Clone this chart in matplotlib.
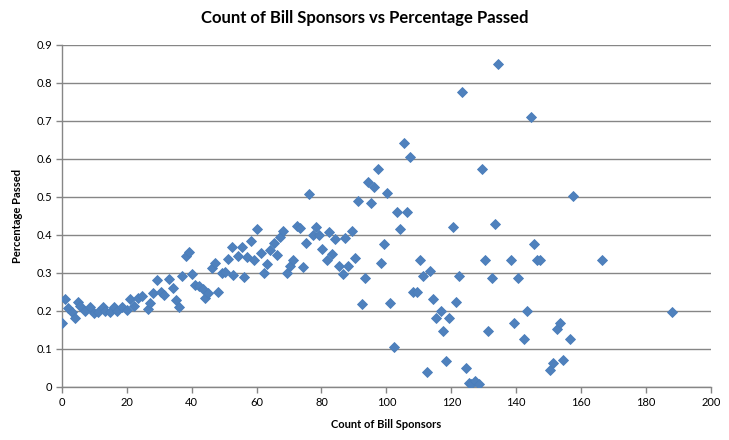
import matplotlib.pyplot as plt
from matplotlib.ticker import MultipleLocator

# values
sponsors = [
    0.0, 0.9, 2.0, 3.0, 4.0, 4.8, 5.5, 7.0, 8.6, 10.0, 11.2, 12.7, 13.2, 14.8,
    16.1, 16.9, 18.4, 19.9, 21.0, 22.2, 23.3, 24.7, 26.4, 27.1, 28.1, 29.2,
    30.5, 31.5, 33.0, 34.3, 35.0, 36.0, 36.9, 38.2, 39.2, 40.2, 41.0, 42.2,
    43.6, 44.1, 45.1, 46.1, 47.1, 48.2, 49.2, 50.2, 51.3, 52.3, 52.7, 54.3,
    55.4, 56.1, 57.1, 58.2, 59.2, 60.2, 61.3, 62.2, 63.3, 64.1, 65.3, 66.3,
    67.2, 68.2, 69.4, 70.3, 71.1, 72.3, 73.5, 74.3, 75.2, 76.1, 77.3, 78.3,
    79.3, 80.2, 81.6, 82.4, 83.3, 84.2, 85.4, 86.5, 87.3, 88.2, 89.5, 90.4,
    91.3, 92.4, 93.4, 94.4, 95.3, 96.1, 97.5, 98.3, 99.3, 100.2, 101.0,
    102.3, 103.3, 104.2, 105.4, 106.5, 107.2, 108.3, 109.5, 110.3, 111.3,
    112.6, 113.6, 114.4, 115.4, 116.7, 117.5, 118.5, 119.3, 120.6, 121.6,
    122.4, 123.4, 124.5, 125.5, 126.2, 127.3, 128.6, 129.5, 130.3, 131.2,
    132.6, 133.4, 134.5, 138.5, 139.4, 140.6, 142.4, 143.4, 144.6, 145.5,
    146.3, 147.5, 150.4, 151.4, 152.6, 153.4, 154.5, 156.5, 157.6, 166.5,
    187.9,
]
pct_passed = [
    0.168, 0.231, 0.207, 0.198, 0.181, 0.223, 0.213, 0.200, 0.211, 0.194,
    0.198, 0.210, 0.200, 0.198, 0.211, 0.200, 0.211, 0.203, 0.231, 0.214,
    0.233, 0.239, 0.204, 0.220, 0.246, 0.282, 0.251, 0.242, 0.283, 0.260,
    0.229, 0.210, 0.293, 0.345, 0.356, 0.297, 0.268, 0.266, 0.257, 0.233,
    0.246, 0.312, 0.325, 0.251, 0.299, 0.303, 0.338, 0.368, 0.295, 0.345,
    0.369, 0.289, 0.343, 0.384, 0.334, 0.415, 0.352, 0.299, 0.323, 0.360,
    0.380, 0.346, 0.394, 0.410, 0.299, 0.317, 0.333, 0.424, 0.418, 0.315,
    0.378, 0.508, 0.400, 0.422, 0.400, 0.362, 0.334, 0.409, 0.350, 0.388,
    0.318, 0.296, 0.391, 0.317, 0.410, 0.340, 0.489, 0.218, 0.286, 0.539,
    0.483, 0.525, 0.573, 0.325, 0.376, 0.510, 0.220, 0.104, 0.461, 0.415,
    0.641, 0.461, 0.604, 0.249, 0.249, 0.333, 0.293, 0.039, 0.306, 0.231,
    0.181, 0.200, 0.146, 0.068, 0.181, 0.422, 0.223, 0.293, 0.777, 0.051,
    0.011, 0.008, 0.017, 0.008, 0.573, 0.333, 0.146, 0.286, 0.429, 0.849,
    0.333, 0.168, 0.286, 0.126, 0.200, 0.710, 0.376, 0.333, 0.333, 0.045,
    0.062, 0.153, 0.168, 0.071, 0.126, 0.503, 0.333, 0.198,
]

plt.rcParams['font.family'] = ['Lato', 'DejaVu Sans']

fig = plt.figure(figsize=(7.29, 4.40), dpi=100)
ax = fig.add_axes([0.085, 0.1205, 0.89, 0.7775])

grid_color = '#868686'
ax.plot(sponsors, pct_passed, linestyle='none', marker='D', markersize=5.2,
        markerfacecolor='#4F81BD', markeredgecolor='#4A7EBB',
        markeredgewidth=0.6, zorder=3)

ax.set_xlim(0, 200)
ax.set_ylim(0, 0.9)
ax.xaxis.set_major_locator(MultipleLocator(20))
ax.set_yticks([v / 10 for v in range(10)])
ax.set_yticklabels(['0'] + ['%.1f' % (v / 10) for v in range(1, 10)])

ax.grid(axis='y', color=grid_color, linewidth=1.0)
ax.set_axisbelow(True)
for side in ['top', 'right']:
    ax.spines[side].set_visible(False)
for side in ['left', 'bottom']:
    ax.spines[side].set_color(grid_color)
    ax.spines[side].set_linewidth(1.0)
ax.tick_params(axis='both', direction='out', length=4, width=1.0,
               color=grid_color, labelsize=8, pad=3)

# Excel centres the title on the whole chart, not on the plot area
fig.text(0.5, 1 - 18 / 440, 'Count of Bill Sponsors vs Percentage Passed',
         ha='center', va='center', fontsize=12, fontweight='bold')
ax.set_xlabel('Count of Bill Sponsors', fontsize=8, fontweight='bold',
              labelpad=8)
ax.set_ylabel('Percentage Passed', fontsize=8, fontweight='bold',
              labelpad=10)

fig.savefig('out.png', dpi=100)
